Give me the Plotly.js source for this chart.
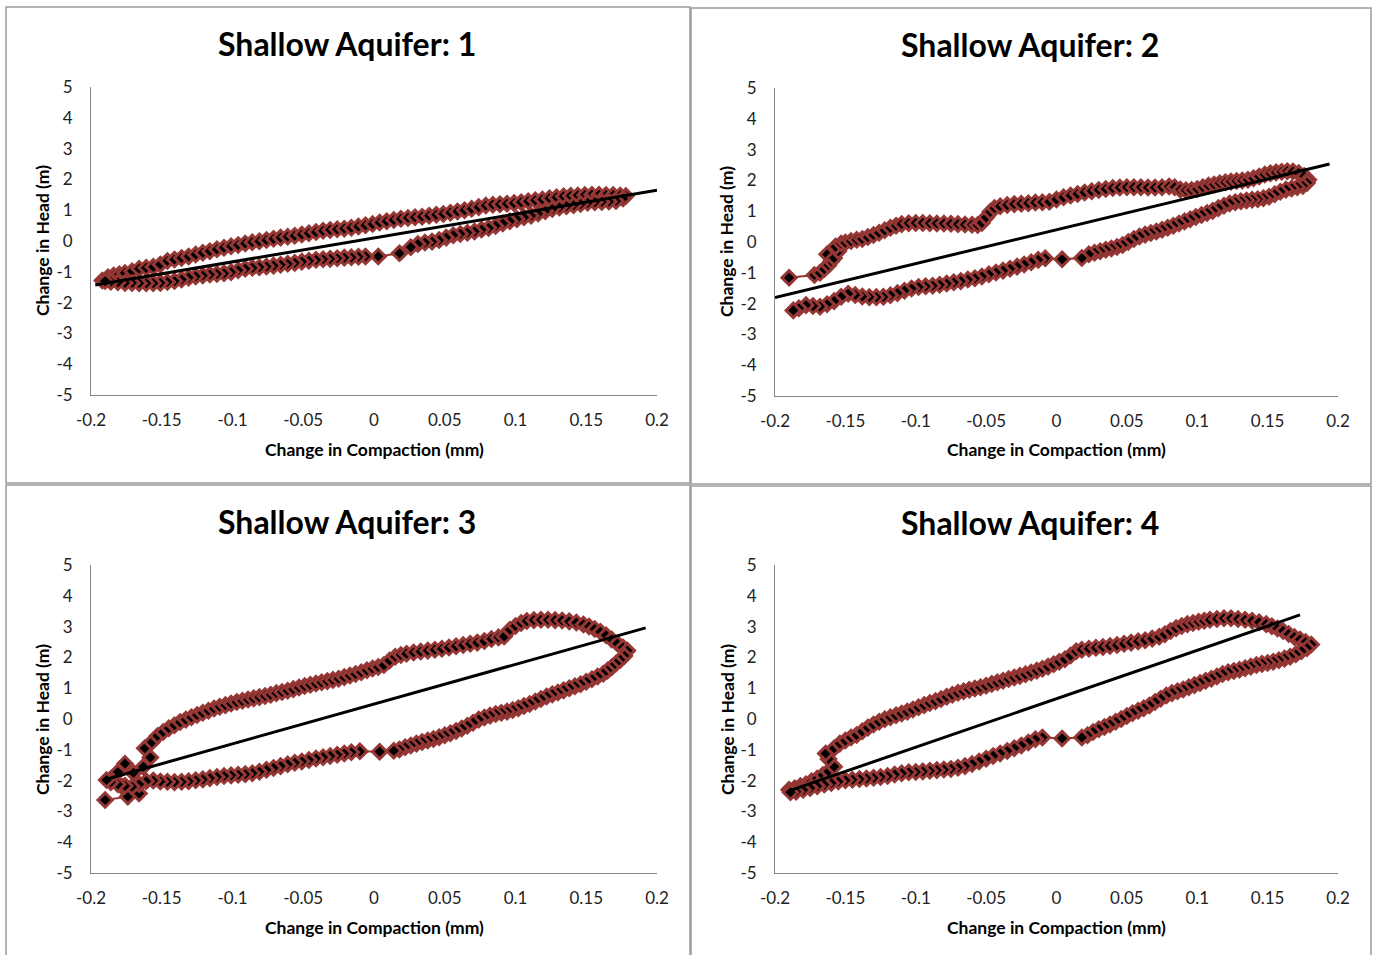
<!DOCTYPE html>
<html>
<head>
<meta charset="utf-8">
<script src="https://cdn.plot.ly/plotly-3.0.1.min.js"></script>
<style>
  html, body { margin: 0; padding: 0; background: #ffffff; }
  #chart { width: 1373px; height: 955px; }
</style>
</head>
<body>
<div id="chart"></div>
<script>
// ---------------- DATA ----------------
const panelTitles = ['Shallow Aquifer: 1', 'Shallow Aquifer: 2', 'Shallow Aquifer: 3', 'Shallow Aquifer: 4'];
const xAxisTitle = 'Change in Compaction (mm)';
const yAxisTitle = 'Change in Head (m)';
const xTickVals = [-0.2, -0.15, -0.1, -0.05, 0, 0.05, 0.1, 0.15, 0.2];
const xTickText = ['-0.2', '-0.15', '-0.1', '-0.05', '0', '0.05', '0.1', '0.15', '0.2'];
const yTickVals = [-5, -4, -3, -2, -1, 0, 1, 2, 3, 4, 5];
const yTickText = ['-5', '-4', '-3', '-2', '-1', '0', '1', '2', '3', '4', '5'];

// Panel 1
const aquifer1X = [-0.192,-0.188,-0.184,-0.180,-0.176,-0.171,-0.166,-0.161,-0.156,-0.151,-0.146,-0.141,-0.136,-0.131,-0.126,-0.121,-0.116,-0.111,-0.106,-0.101,-0.096,-0.091,-0.086,-0.081,-0.076,-0.071,-0.066,-0.061,-0.056,-0.051,-0.046,-0.041,-0.036,-0.031,-0.026,-0.021,-0.016,-0.011,-0.006,-0.001,0.004,0.009,0.014,0.019,0.024,0.029,0.034,0.039,0.044,0.049,0.054,0.059,0.064,0.069,0.074,0.079,0.084,0.089,0.094,0.099,0.104,0.109,0.114,0.119,0.124,0.129,0.134,0.139,0.144,0.149,0.154,0.159,0.164,0.169,0.174,0.178,
  0.176,0.171,0.166,0.161,0.156,0.151,0.146,0.141,0.136,0.131,0.126,0.121,0.116,0.111,0.106,0.101,0.096,0.091,0.086,0.081,0.076,0.071,0.066,0.061,0.056,0.051,0.046,0.041,0.036,0.031,0.026,0.018,0.003,-0.006,-0.011,-0.016,-0.021,-0.026,-0.031,-0.036,-0.041,-0.046,-0.051,-0.056,-0.061,-0.066,-0.071,-0.076,-0.081,-0.086,-0.091,-0.096,-0.101,-0.106,-0.111,-0.116,-0.121,-0.126,-0.131,-0.136,-0.141,-0.146,-0.151,-0.156,-0.161,-0.166,-0.171,-0.176,-0.181,-0.186,-0.190];
const aquifer1Y = [-1.28,-1.18,-1.12,-1.08,-1.04,-0.98,-0.90,-0.87,-0.84,-0.76,-0.65,-0.60,-0.55,-0.50,-0.44,-0.38,-0.33,-0.27,-0.22,-0.17,-0.13,-0.08,-0.04,-0.01,0.03,0.07,0.11,0.14,0.17,0.21,0.25,0.29,0.33,0.36,0.38,0.40,0.43,0.47,0.51,0.55,0.60,0.64,0.68,0.72,0.75,0.77,0.79,0.82,0.85,0.88,0.92,0.96,1.00,1.05,1.10,1.15,1.18,1.19,1.21,1.23,1.26,1.29,1.32,1.35,1.39,1.42,1.45,1.47,1.48,1.49,1.50,1.50,1.49,1.49,1.48,1.46,
  1.38,1.30,1.28,1.27,1.26,1.24,1.20,1.16,1.13,1.09,1.04,0.97,0.89,0.82,0.77,0.71,0.64,0.57,0.49,0.42,0.37,0.31,0.27,0.23,0.19,0.11,0.03,-0.02,-0.05,-0.10,-0.20,-0.40,-0.50,-0.50,-0.51,-0.53,-0.54,-0.56,-0.58,-0.59,-0.61,-0.64,-0.67,-0.71,-0.74,-0.77,-0.80,-0.83,-0.85,-0.87,-0.90,-0.95,-1.01,-1.05,-1.07,-1.09,-1.12,-1.15,-1.19,-1.25,-1.30,-1.33,-1.36,-1.37,-1.37,-1.37,-1.36,-1.36,-1.34,-1.32,-1.30];
const trend1X = [-0.197, 0.2];
const trend1Y = [-1.43, 1.65];

// Panel 2
const aquifer2X = [-0.190,-0.172,-0.168,-0.165,-0.162,-0.160,-0.163,-0.158,-0.155,-0.157,-0.153,-0.150,-0.146,-0.142,-0.138,-0.134,-0.130,-0.126,-0.122,-0.118,-0.114,-0.110,-0.105,-0.100,-0.095,-0.090,-0.085,-0.080,-0.075,-0.070,-0.065,-0.060,-0.056,-0.053,-0.050,-0.047,-0.044,-0.040,-0.035,-0.030,-0.025,-0.020,-0.015,-0.010,-0.005,0.000,0.005,0.010,0.015,0.020,0.025,0.030,0.035,0.040,0.045,0.050,0.055,0.060,0.065,0.070,0.075,0.080,0.084,0.088,0.092,0.096,0.100,0.104,0.108,0.112,0.116,0.120,0.124,0.128,0.132,0.136,0.140,0.144,0.148,0.152,0.156,0.160,0.164,0.168,0.172,0.176,0.179,
  0.178,0.175,0.171,0.167,0.163,0.159,0.155,0.151,0.147,0.143,0.139,0.135,0.131,0.127,0.123,0.119,0.115,0.111,0.107,0.103,0.099,0.095,0.091,0.087,0.083,0.079,0.075,0.071,0.067,0.063,0.059,0.055,0.051,0.047,0.043,0.039,0.035,0.031,0.027,0.023,0.018,0.004,-0.008,-0.013,-0.018,-0.023,-0.028,-0.033,-0.038,-0.043,-0.048,-0.053,-0.058,-0.063,-0.068,-0.073,-0.078,-0.083,-0.088,-0.093,-0.098,-0.103,-0.108,-0.113,-0.118,-0.123,-0.128,-0.133,-0.138,-0.143,-0.148,-0.153,-0.158,-0.163,-0.168,-0.173,-0.178,-0.183,-0.187];
const aquifer2Y = [-1.16,-1.07,-1.00,-0.88,-0.75,-0.62,-0.40,-0.52,-0.30,-0.15,-0.05,-0.02,0.03,0.07,0.10,0.16,0.23,0.30,0.38,0.46,0.53,0.58,0.61,0.62,0.62,0.61,0.60,0.60,0.59,0.58,0.57,0.56,0.55,0.62,0.80,0.98,1.10,1.16,1.20,1.23,1.24,1.26,1.28,1.29,1.31,1.38,1.45,1.51,1.56,1.61,1.65,1.69,1.72,1.75,1.77,1.78,1.78,1.78,1.77,1.77,1.78,1.80,1.78,1.70,1.68,1.69,1.72,1.78,1.83,1.87,1.91,1.94,1.96,1.98,2.00,2.02,2.07,2.13,2.19,2.23,2.26,2.28,2.30,2.29,2.24,2.14,2.02,
  1.92,1.82,1.78,1.74,1.70,1.63,1.55,1.47,1.42,1.39,1.37,1.35,1.32,1.29,1.25,1.18,1.10,1.01,0.94,0.88,0.81,0.74,0.67,0.60,0.53,0.46,0.40,0.34,0.29,0.24,0.18,0.10,0.00,-0.10,-0.16,-0.21,-0.25,-0.30,-0.35,-0.40,-0.52,-0.56,-0.53,-0.58,-0.66,-0.73,-0.80,-0.87,-0.93,-0.99,-1.05,-1.12,-1.18,-1.22,-1.27,-1.31,-1.35,-1.39,-1.42,-1.44,-1.46,-1.51,-1.58,-1.66,-1.73,-1.78,-1.79,-1.79,-1.77,-1.72,-1.68,-1.78,-1.92,-2.02,-2.10,-2.08,-2.05,-2.15,-2.22];
const trend2X = [-0.2, 0.194];
const trend2Y = [-1.80, 2.53];

// Panel 3
const aquifer3X = [-0.190,-0.174,-0.166,-0.178,-0.186,-0.181,-0.176,-0.170,-0.163,-0.158,-0.162,-0.157,-0.153,-0.149,-0.145,-0.141,-0.137,-0.133,-0.129,-0.125,-0.121,-0.117,-0.113,-0.109,-0.105,-0.101,-0.097,-0.093,-0.089,-0.085,-0.081,-0.077,-0.073,-0.069,-0.065,-0.061,-0.057,-0.053,-0.049,-0.045,-0.041,-0.037,-0.033,-0.029,-0.025,-0.021,-0.017,-0.013,-0.009,-0.005,-0.001,0.003,0.007,0.011,0.015,0.019,0.023,0.028,0.033,0.038,0.043,0.048,0.053,0.058,0.063,0.068,0.073,0.078,0.083,0.088,0.092,0.096,0.100,0.104,0.108,0.113,0.118,0.123,0.128,0.133,0.138,0.143,0.148,0.152,0.156,0.160,0.164,0.168,0.172,0.176,0.179,0.177,
  0.174,0.171,0.168,0.165,0.162,0.158,0.154,0.150,0.146,0.142,0.138,0.134,0.130,0.126,0.122,0.118,0.114,0.110,0.106,0.102,0.098,0.094,0.090,0.086,0.082,0.078,0.074,0.070,0.066,0.062,0.058,0.054,0.050,0.046,0.042,0.038,0.034,0.030,0.026,0.022,0.018,0.014,0.004,-0.010,-0.016,-0.021,-0.026,-0.031,-0.036,-0.041,-0.046,-0.051,-0.056,-0.061,-0.066,-0.071,-0.076,-0.081,-0.086,-0.091,-0.096,-0.101,-0.106,-0.111,-0.116,-0.121,-0.126,-0.131,-0.136,-0.141,-0.146,-0.151,-0.156,-0.161,-0.166,-0.171,-0.176,-0.181,-0.186,-0.189];
const aquifer3Y = [-2.63,-2.52,-2.42,-2.20,-1.95,-1.72,-1.45,-1.75,-1.55,-1.25,-0.95,-0.75,-0.55,-0.42,-0.30,-0.20,-0.10,-0.02,0.06,0.13,0.20,0.27,0.34,0.40,0.45,0.50,0.55,0.59,0.63,0.67,0.71,0.75,0.79,0.84,0.88,0.92,0.97,1.02,1.07,1.11,1.15,1.19,1.23,1.27,1.31,1.36,1.41,1.46,1.52,1.58,1.64,1.69,1.75,1.90,2.02,2.08,2.12,2.16,2.19,2.22,2.25,2.28,2.32,2.36,2.40,2.44,2.48,2.53,2.60,2.65,2.68,2.90,3.02,3.12,3.18,3.21,3.22,3.22,3.21,3.20,3.17,3.13,3.07,3.00,2.92,2.83,2.72,2.58,2.45,2.32,2.22,2.05,
  1.92,1.80,1.68,1.57,1.47,1.38,1.29,1.21,1.13,1.06,1.00,0.93,0.86,0.80,0.73,0.65,0.57,0.49,0.42,0.35,0.29,0.24,0.20,0.16,0.11,0.05,-0.02,-0.12,-0.22,-0.31,-0.39,-0.46,-0.53,-0.59,-0.65,-0.70,-0.75,-0.80,-0.86,-0.92,-0.99,-1.03,-1.06,-1.05,-1.08,-1.12,-1.16,-1.20,-1.24,-1.28,-1.33,-1.38,-1.42,-1.47,-1.53,-1.59,-1.65,-1.71,-1.76,-1.79,-1.81,-1.83,-1.85,-1.88,-1.92,-1.96,-1.99,-2.02,-2.04,-2.05,-2.04,-2.03,-2.00,-2.02,-2.12,-2.20,-2.17,-2.12,-2.05,-1.98];
const trend3X = [-0.191, 0.192];
const trend3Y = [-1.98, 2.96];

// Panel 4
const aquifer4X = [-0.190,-0.186,-0.182,-0.178,-0.174,-0.170,-0.166,-0.162,-0.158,-0.162,-0.164,-0.158,-0.154,-0.150,-0.146,-0.142,-0.138,-0.134,-0.130,-0.126,-0.122,-0.118,-0.114,-0.110,-0.106,-0.102,-0.098,-0.094,-0.090,-0.086,-0.082,-0.078,-0.074,-0.070,-0.066,-0.062,-0.058,-0.054,-0.050,-0.046,-0.042,-0.038,-0.034,-0.030,-0.026,-0.022,-0.018,-0.014,-0.010,-0.006,-0.002,0.002,0.006,0.010,0.014,0.018,0.023,0.028,0.033,0.038,0.043,0.048,0.053,0.058,0.063,0.068,0.073,0.077,0.081,0.085,0.089,0.093,0.097,0.101,0.105,0.109,0.114,0.119,0.124,0.129,0.134,0.139,0.144,0.149,0.153,0.157,0.161,0.165,0.169,0.173,0.177,0.181,
  0.178,0.174,0.170,0.166,0.162,0.158,0.154,0.150,0.146,0.142,0.138,0.134,0.130,0.126,0.122,0.118,0.114,0.110,0.106,0.102,0.098,0.094,0.090,0.086,0.082,0.078,0.074,0.070,0.066,0.062,0.058,0.054,0.050,0.046,0.042,0.038,0.034,0.030,0.026,0.022,0.018,0.004,-0.010,-0.015,-0.020,-0.025,-0.030,-0.035,-0.040,-0.045,-0.050,-0.055,-0.060,-0.065,-0.070,-0.075,-0.080,-0.085,-0.090,-0.095,-0.100,-0.105,-0.110,-0.115,-0.120,-0.125,-0.130,-0.135,-0.140,-0.145,-0.150,-0.155,-0.160,-0.165,-0.170,-0.175,-0.180,-0.185,-0.189];
const aquifer4Y = [-2.30,-2.25,-2.18,-2.12,-2.02,-1.93,-1.82,-1.70,-1.55,-1.30,-1.12,-0.95,-0.80,-0.70,-0.60,-0.52,-0.40,-0.28,-0.18,-0.09,-0.01,0.06,0.12,0.18,0.24,0.31,0.38,0.45,0.52,0.58,0.65,0.72,0.79,0.85,0.90,0.95,0.99,1.03,1.08,1.14,1.19,1.24,1.30,1.35,1.40,1.45,1.51,1.57,1.63,1.70,1.78,1.86,1.94,2.06,2.20,2.25,2.28,2.31,2.34,2.37,2.40,2.44,2.48,2.52,2.56,2.61,2.67,2.75,2.86,2.95,3.02,3.08,3.12,3.16,3.19,3.22,3.25,3.27,3.27,3.25,3.22,3.19,3.14,3.08,3.01,2.94,2.86,2.76,2.66,2.58,2.50,2.42,
  2.30,2.20,2.10,2.02,1.96,1.91,1.86,1.82,1.79,1.75,1.70,1.65,1.60,1.56,1.52,1.46,1.38,1.31,1.24,1.17,1.10,1.03,0.96,0.90,0.84,0.76,0.66,0.55,0.44,0.35,0.27,0.19,0.10,0.00,-0.09,-0.18,-0.26,-0.33,-0.42,-0.53,-0.60,-0.63,-0.60,-0.66,-0.76,-0.86,-0.95,-1.04,-1.12,-1.20,-1.29,-1.38,-1.46,-1.53,-1.58,-1.62,-1.64,-1.66,-1.68,-1.70,-1.72,-1.73,-1.76,-1.80,-1.85,-1.88,-1.91,-1.93,-1.95,-1.97,-1.99,-2.03,-2.08,-2.13,-2.18,-2.24,-2.30,-2.36,-2.38];
const trend4X = [-0.188, 0.173];
const trend4Y = [-2.30, 3.38];

// ---------------- BUILD ----------------
const W = 1373, H = 955;
const FONT = 'Lato, "Open Sans", sans-serif';
const seriesX = [aquifer1X, aquifer2X, aquifer3X, aquifer4X];
const seriesY = [aquifer1Y, aquifer2Y, aquifer3Y, aquifer4Y];
const trendsX = [trend1X, trend2X, trend3X, trend4X];
const trendsY = [trend1Y, trend2Y, trend3Y, trend4Y];

// plot-area pixel boxes [left, right, top, bottom]
const boxes = [[91, 657, 87, 395], [775, 1338, 88, 396], [91, 657, 565, 873], [775, 1338, 565, 873]];
// panel frames [left, right, top, bottom]
const frames = [[6, 690, 7, 483], [691, 1371, 8, 484], [6, 690, 485, 960], [691, 1371, 486, 960]];
// text positions
const titlePos = [[347, 43], [1030, 45], [347, 521], [1030, 522]];
const yTitlePos = [[42, 241], [727, 242], [42, 720], [727, 720]];
const xTitlePos = [[374, 449], [1056, 450], [374, 927], [1056, 927]];

const fx = p => p / W;
const fy = p => 1 - p / H;

const traces = [];
const layout = {
  width: W, height: H,
  margin: {l: 0, r: 0, t: 0, b: 0},
  paper_bgcolor: '#ffffff', plot_bgcolor: '#ffffff',
  showlegend: false,
  font: {family: FONT, color: '#404040'},
  shapes: [], annotations: []
};

for (let i = 0; i < 4; i++) {
  const n = i === 0 ? '' : String(i + 1);
  const xa = 'x' + n, ya = 'y' + n;
  traces.push({
    type: 'scatter', mode: 'lines+markers', x: seriesX[i], y: seriesY[i],
    xaxis: xa, yaxis: ya, hoverinfo: 'skip',
    line: {color: '#953735', width: 2},
    marker: {symbol: 'diamond', size: 11, color: '#000000', line: {color: '#953735', width: 3}}
  });
  traces.push({
    type: 'scatter', mode: 'lines', x: trendsX[i], y: trendsY[i],
    xaxis: xa, yaxis: ya, hoverinfo: 'skip',
    line: {color: '#000000', width: 3}
  });
  const b = boxes[i];
  layout['xaxis' + n] = {
    domain: [fx(b[0]), fx(b[1])], anchor: ya, range: [-0.2, 0.2],
    showline: true, linecolor: '#868686', linewidth: 1, mirror: false,
    showgrid: false, zeroline: false, ticks: '',
    tickvals: xTickVals, ticktext: xTickText, ticklabelstandoff: 10,
    tickfont: {family: FONT, size: 17, color: '#222222'}
  };
  layout['yaxis' + n] = {
    domain: [fy(b[3]), fy(b[2])], anchor: xa, range: [-5, 5],
    showline: true, linecolor: '#868686', linewidth: 1,
    showgrid: false, zeroline: false, ticks: '',
    tickvals: yTickVals, ticktext: yTickText, ticklabelstandoff: 14,
    tickfont: {family: FONT, size: 17, color: '#222222'}
  };
  const f = frames[i];
  layout.shapes.push({type: 'rect', xref: 'paper', yref: 'paper',
    x0: fx(f[0]), x1: fx(f[1]), y0: fy(f[3]), y1: fy(f[2]),
    line: {color: '#9a9a9a', width: 1.5}, fillcolor: 'rgba(0,0,0,0)', layer: 'below'});
  layout.annotations.push({xref: 'paper', yref: 'paper', x: fx(titlePos[i][0]), y: fy(titlePos[i][1]),
    xanchor: 'center', yanchor: 'middle', showarrow: false, text: panelTitles[i],
    font: {family: FONT, size: 32, color: '#000000', weight: 'bold'}});
  layout.annotations.push({xref: 'paper', yref: 'paper', x: fx(yTitlePos[i][0]), y: fy(yTitlePos[i][1]),
    xanchor: 'center', yanchor: 'middle', showarrow: false, text: yAxisTitle, textangle: -90,
    font: {family: FONT, size: 17.5, color: '#000000', weight: 'bold'}});
  layout.annotations.push({xref: 'paper', yref: 'paper', x: fx(xTitlePos[i][0]), y: fy(xTitlePos[i][1]),
    xanchor: 'center', yanchor: 'middle', showarrow: false, text: xAxisTitle,
    font: {family: FONT, size: 17.5, color: '#000000', weight: 'bold'}});
}

Plotly.newPlot('chart', traces, layout, {staticPlot: true, displayModeBar: false});
</script>
</body>
</html>
